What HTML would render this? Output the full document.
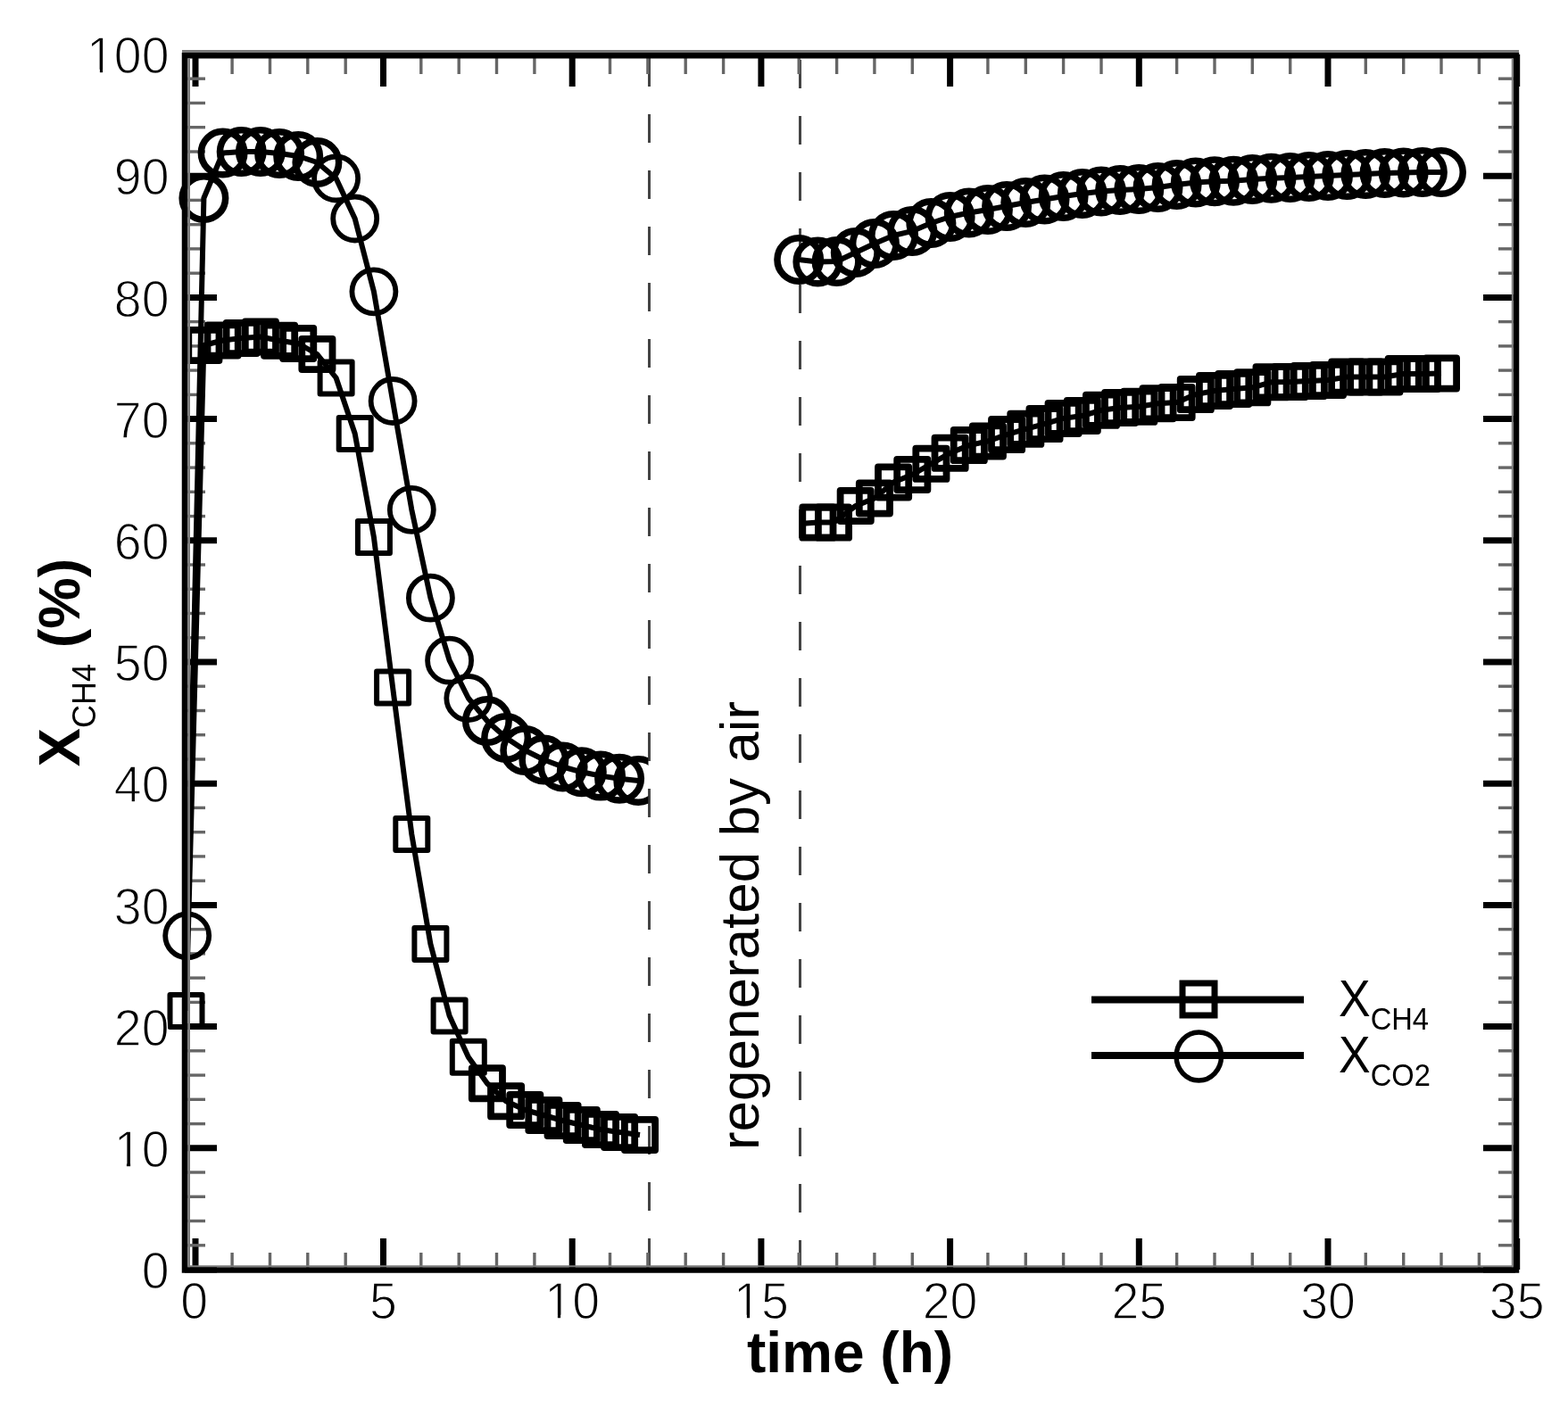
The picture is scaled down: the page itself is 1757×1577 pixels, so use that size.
<!DOCTYPE html><html><head><meta charset="utf-8"><title>X CH4 vs time</title>
<style>html,body{margin:0;padding:0;background:#fff;}svg{display:block;}text{font-family:"Liberation Sans",Arial,Helvetica,sans-serif;fill:#000;}</style></head><body>
<svg width="1757" height="1577" viewBox="0 0 1757 1577">
<rect width="1757" height="1577" fill="#fff"/>
<defs><clipPath id="c12"><rect x="0" y="0" width="726.5" height="1577"/></clipPath></defs>
<line x1="727.5" y1="65" x2="727.5" y2="1419" stroke="#444" stroke-width="3" stroke-dasharray="32 31" stroke-dashoffset="0"/>
<line x1="896.5" y1="65" x2="896.5" y2="1419" stroke="#444" stroke-width="3" stroke-dasharray="32 31" stroke-dashoffset="-2"/>
<line x1="219.0" y1="1423" x2="219.0" y2="1388" stroke="#000" stroke-width="7"/><line x1="219.0" y1="61" x2="219.0" y2="97" stroke="#000" stroke-width="7"/><line x1="260.1" y1="1423" x2="260.1" y2="1404" stroke="#666" stroke-width="3.4"/><line x1="260.1" y1="61" x2="260.1" y2="83" stroke="#666" stroke-width="3.4"/><line x1="302.5" y1="1423" x2="302.5" y2="1404" stroke="#666" stroke-width="3.4"/><line x1="302.5" y1="61" x2="302.5" y2="83" stroke="#666" stroke-width="3.4"/><line x1="344.8" y1="1423" x2="344.8" y2="1404" stroke="#666" stroke-width="3.4"/><line x1="344.8" y1="61" x2="344.8" y2="83" stroke="#666" stroke-width="3.4"/><line x1="387.2" y1="1423" x2="387.2" y2="1404" stroke="#666" stroke-width="3.4"/><line x1="387.2" y1="61" x2="387.2" y2="83" stroke="#666" stroke-width="3.4"/><line x1="429.5" y1="1423" x2="429.5" y2="1388" stroke="#000" stroke-width="7"/><line x1="429.5" y1="61" x2="429.5" y2="97" stroke="#000" stroke-width="7"/><line x1="471.8" y1="1423" x2="471.8" y2="1404" stroke="#666" stroke-width="3.4"/><line x1="471.8" y1="61" x2="471.8" y2="83" stroke="#666" stroke-width="3.4"/><line x1="514.2" y1="1423" x2="514.2" y2="1404" stroke="#666" stroke-width="3.4"/><line x1="514.2" y1="61" x2="514.2" y2="83" stroke="#666" stroke-width="3.4"/><line x1="556.5" y1="1423" x2="556.5" y2="1404" stroke="#666" stroke-width="3.4"/><line x1="556.5" y1="61" x2="556.5" y2="83" stroke="#666" stroke-width="3.4"/><line x1="598.9" y1="1423" x2="598.9" y2="1404" stroke="#666" stroke-width="3.4"/><line x1="598.9" y1="61" x2="598.9" y2="83" stroke="#666" stroke-width="3.4"/><line x1="641.2" y1="1423" x2="641.2" y2="1388" stroke="#000" stroke-width="7"/><line x1="641.2" y1="61" x2="641.2" y2="97" stroke="#000" stroke-width="7"/><line x1="683.5" y1="1423" x2="683.5" y2="1404" stroke="#666" stroke-width="3.4"/><line x1="683.5" y1="61" x2="683.5" y2="83" stroke="#666" stroke-width="3.4"/><line x1="725.9" y1="1423" x2="725.9" y2="1404" stroke="#666" stroke-width="3.4"/><line x1="725.9" y1="61" x2="725.9" y2="83" stroke="#666" stroke-width="3.4"/><line x1="768.2" y1="1423" x2="768.2" y2="1404" stroke="#666" stroke-width="3.4"/><line x1="768.2" y1="61" x2="768.2" y2="83" stroke="#666" stroke-width="3.4"/><line x1="810.6" y1="1423" x2="810.6" y2="1404" stroke="#666" stroke-width="3.4"/><line x1="810.6" y1="61" x2="810.6" y2="83" stroke="#666" stroke-width="3.4"/><line x1="852.9" y1="1423" x2="852.9" y2="1388" stroke="#000" stroke-width="7"/><line x1="852.9" y1="61" x2="852.9" y2="97" stroke="#000" stroke-width="7"/><line x1="895.2" y1="1423" x2="895.2" y2="1404" stroke="#666" stroke-width="3.4"/><line x1="895.2" y1="61" x2="895.2" y2="83" stroke="#666" stroke-width="3.4"/><line x1="937.6" y1="1423" x2="937.6" y2="1404" stroke="#666" stroke-width="3.4"/><line x1="937.6" y1="61" x2="937.6" y2="83" stroke="#666" stroke-width="3.4"/><line x1="979.9" y1="1423" x2="979.9" y2="1404" stroke="#666" stroke-width="3.4"/><line x1="979.9" y1="61" x2="979.9" y2="83" stroke="#666" stroke-width="3.4"/><line x1="1022.3" y1="1423" x2="1022.3" y2="1404" stroke="#666" stroke-width="3.4"/><line x1="1022.3" y1="61" x2="1022.3" y2="83" stroke="#666" stroke-width="3.4"/><line x1="1064.6" y1="1423" x2="1064.6" y2="1388" stroke="#000" stroke-width="7"/><line x1="1064.6" y1="61" x2="1064.6" y2="97" stroke="#000" stroke-width="7"/><line x1="1106.9" y1="1423" x2="1106.9" y2="1404" stroke="#666" stroke-width="3.4"/><line x1="1106.9" y1="61" x2="1106.9" y2="83" stroke="#666" stroke-width="3.4"/><line x1="1149.3" y1="1423" x2="1149.3" y2="1404" stroke="#666" stroke-width="3.4"/><line x1="1149.3" y1="61" x2="1149.3" y2="83" stroke="#666" stroke-width="3.4"/><line x1="1191.6" y1="1423" x2="1191.6" y2="1404" stroke="#666" stroke-width="3.4"/><line x1="1191.6" y1="61" x2="1191.6" y2="83" stroke="#666" stroke-width="3.4"/><line x1="1234.0" y1="1423" x2="1234.0" y2="1404" stroke="#666" stroke-width="3.4"/><line x1="1234.0" y1="61" x2="1234.0" y2="83" stroke="#666" stroke-width="3.4"/><line x1="1276.3" y1="1423" x2="1276.3" y2="1388" stroke="#000" stroke-width="7"/><line x1="1276.3" y1="61" x2="1276.3" y2="97" stroke="#000" stroke-width="7"/><line x1="1318.6" y1="1423" x2="1318.6" y2="1404" stroke="#666" stroke-width="3.4"/><line x1="1318.6" y1="61" x2="1318.6" y2="83" stroke="#666" stroke-width="3.4"/><line x1="1361.0" y1="1423" x2="1361.0" y2="1404" stroke="#666" stroke-width="3.4"/><line x1="1361.0" y1="61" x2="1361.0" y2="83" stroke="#666" stroke-width="3.4"/><line x1="1403.3" y1="1423" x2="1403.3" y2="1404" stroke="#666" stroke-width="3.4"/><line x1="1403.3" y1="61" x2="1403.3" y2="83" stroke="#666" stroke-width="3.4"/><line x1="1445.7" y1="1423" x2="1445.7" y2="1404" stroke="#666" stroke-width="3.4"/><line x1="1445.7" y1="61" x2="1445.7" y2="83" stroke="#666" stroke-width="3.4"/><line x1="1488.0" y1="1423" x2="1488.0" y2="1388" stroke="#000" stroke-width="7"/><line x1="1488.0" y1="61" x2="1488.0" y2="97" stroke="#000" stroke-width="7"/><line x1="1530.3" y1="1423" x2="1530.3" y2="1404" stroke="#666" stroke-width="3.4"/><line x1="1530.3" y1="61" x2="1530.3" y2="83" stroke="#666" stroke-width="3.4"/><line x1="1572.7" y1="1423" x2="1572.7" y2="1404" stroke="#666" stroke-width="3.4"/><line x1="1572.7" y1="61" x2="1572.7" y2="83" stroke="#666" stroke-width="3.4"/><line x1="1615.0" y1="1423" x2="1615.0" y2="1404" stroke="#666" stroke-width="3.4"/><line x1="1615.0" y1="61" x2="1615.0" y2="83" stroke="#666" stroke-width="3.4"/><line x1="1657.4" y1="1423" x2="1657.4" y2="1404" stroke="#666" stroke-width="3.4"/><line x1="1657.4" y1="61" x2="1657.4" y2="83" stroke="#666" stroke-width="3.4"/><line x1="1699.7" y1="1423" x2="1699.7" y2="1388" stroke="#000" stroke-width="7"/><line x1="1699.7" y1="61" x2="1699.7" y2="97" stroke="#000" stroke-width="7"/><line x1="207" y1="1423.0" x2="243" y2="1423.0" stroke="#000" stroke-width="7"/><line x1="1698" y1="1423.0" x2="1662" y2="1423.0" stroke="#000" stroke-width="7"/><line x1="207" y1="1395.8" x2="230" y2="1395.8" stroke="#666" stroke-width="3.4"/><line x1="1698" y1="1395.8" x2="1679" y2="1395.8" stroke="#666" stroke-width="3.4"/><line x1="207" y1="1368.5" x2="230" y2="1368.5" stroke="#666" stroke-width="3.4"/><line x1="1698" y1="1368.5" x2="1679" y2="1368.5" stroke="#666" stroke-width="3.4"/><line x1="207" y1="1341.3" x2="230" y2="1341.3" stroke="#666" stroke-width="3.4"/><line x1="1698" y1="1341.3" x2="1679" y2="1341.3" stroke="#666" stroke-width="3.4"/><line x1="207" y1="1314.0" x2="230" y2="1314.0" stroke="#666" stroke-width="3.4"/><line x1="1698" y1="1314.0" x2="1679" y2="1314.0" stroke="#666" stroke-width="3.4"/><line x1="207" y1="1286.8" x2="243" y2="1286.8" stroke="#000" stroke-width="7"/><line x1="1698" y1="1286.8" x2="1662" y2="1286.8" stroke="#000" stroke-width="7"/><line x1="207" y1="1259.6" x2="230" y2="1259.6" stroke="#666" stroke-width="3.4"/><line x1="1698" y1="1259.6" x2="1679" y2="1259.6" stroke="#666" stroke-width="3.4"/><line x1="207" y1="1232.3" x2="230" y2="1232.3" stroke="#666" stroke-width="3.4"/><line x1="1698" y1="1232.3" x2="1679" y2="1232.3" stroke="#666" stroke-width="3.4"/><line x1="207" y1="1205.1" x2="230" y2="1205.1" stroke="#666" stroke-width="3.4"/><line x1="1698" y1="1205.1" x2="1679" y2="1205.1" stroke="#666" stroke-width="3.4"/><line x1="207" y1="1177.8" x2="230" y2="1177.8" stroke="#666" stroke-width="3.4"/><line x1="1698" y1="1177.8" x2="1679" y2="1177.8" stroke="#666" stroke-width="3.4"/><line x1="207" y1="1150.6" x2="243" y2="1150.6" stroke="#000" stroke-width="7"/><line x1="1698" y1="1150.6" x2="1662" y2="1150.6" stroke="#000" stroke-width="7"/><line x1="207" y1="1123.4" x2="230" y2="1123.4" stroke="#666" stroke-width="3.4"/><line x1="1698" y1="1123.4" x2="1679" y2="1123.4" stroke="#666" stroke-width="3.4"/><line x1="207" y1="1096.1" x2="230" y2="1096.1" stroke="#666" stroke-width="3.4"/><line x1="1698" y1="1096.1" x2="1679" y2="1096.1" stroke="#666" stroke-width="3.4"/><line x1="207" y1="1068.9" x2="230" y2="1068.9" stroke="#666" stroke-width="3.4"/><line x1="1698" y1="1068.9" x2="1679" y2="1068.9" stroke="#666" stroke-width="3.4"/><line x1="207" y1="1041.6" x2="230" y2="1041.6" stroke="#666" stroke-width="3.4"/><line x1="1698" y1="1041.6" x2="1679" y2="1041.6" stroke="#666" stroke-width="3.4"/><line x1="207" y1="1014.4" x2="243" y2="1014.4" stroke="#000" stroke-width="7"/><line x1="1698" y1="1014.4" x2="1662" y2="1014.4" stroke="#000" stroke-width="7"/><line x1="207" y1="987.2" x2="230" y2="987.2" stroke="#666" stroke-width="3.4"/><line x1="1698" y1="987.2" x2="1679" y2="987.2" stroke="#666" stroke-width="3.4"/><line x1="207" y1="959.9" x2="230" y2="959.9" stroke="#666" stroke-width="3.4"/><line x1="1698" y1="959.9" x2="1679" y2="959.9" stroke="#666" stroke-width="3.4"/><line x1="207" y1="932.7" x2="230" y2="932.7" stroke="#666" stroke-width="3.4"/><line x1="1698" y1="932.7" x2="1679" y2="932.7" stroke="#666" stroke-width="3.4"/><line x1="207" y1="905.4" x2="230" y2="905.4" stroke="#666" stroke-width="3.4"/><line x1="1698" y1="905.4" x2="1679" y2="905.4" stroke="#666" stroke-width="3.4"/><line x1="207" y1="878.2" x2="243" y2="878.2" stroke="#000" stroke-width="7"/><line x1="1698" y1="878.2" x2="1662" y2="878.2" stroke="#000" stroke-width="7"/><line x1="207" y1="851.0" x2="230" y2="851.0" stroke="#666" stroke-width="3.4"/><line x1="1698" y1="851.0" x2="1679" y2="851.0" stroke="#666" stroke-width="3.4"/><line x1="207" y1="823.7" x2="230" y2="823.7" stroke="#666" stroke-width="3.4"/><line x1="1698" y1="823.7" x2="1679" y2="823.7" stroke="#666" stroke-width="3.4"/><line x1="207" y1="796.5" x2="230" y2="796.5" stroke="#666" stroke-width="3.4"/><line x1="1698" y1="796.5" x2="1679" y2="796.5" stroke="#666" stroke-width="3.4"/><line x1="207" y1="769.2" x2="230" y2="769.2" stroke="#666" stroke-width="3.4"/><line x1="1698" y1="769.2" x2="1679" y2="769.2" stroke="#666" stroke-width="3.4"/><line x1="207" y1="742.0" x2="243" y2="742.0" stroke="#000" stroke-width="7"/><line x1="1698" y1="742.0" x2="1662" y2="742.0" stroke="#000" stroke-width="7"/><line x1="207" y1="714.8" x2="230" y2="714.8" stroke="#666" stroke-width="3.4"/><line x1="1698" y1="714.8" x2="1679" y2="714.8" stroke="#666" stroke-width="3.4"/><line x1="207" y1="687.5" x2="230" y2="687.5" stroke="#666" stroke-width="3.4"/><line x1="1698" y1="687.5" x2="1679" y2="687.5" stroke="#666" stroke-width="3.4"/><line x1="207" y1="660.3" x2="230" y2="660.3" stroke="#666" stroke-width="3.4"/><line x1="1698" y1="660.3" x2="1679" y2="660.3" stroke="#666" stroke-width="3.4"/><line x1="207" y1="633.0" x2="230" y2="633.0" stroke="#666" stroke-width="3.4"/><line x1="1698" y1="633.0" x2="1679" y2="633.0" stroke="#666" stroke-width="3.4"/><line x1="207" y1="605.8" x2="243" y2="605.8" stroke="#000" stroke-width="7"/><line x1="1698" y1="605.8" x2="1662" y2="605.8" stroke="#000" stroke-width="7"/><line x1="207" y1="578.6" x2="230" y2="578.6" stroke="#666" stroke-width="3.4"/><line x1="1698" y1="578.6" x2="1679" y2="578.6" stroke="#666" stroke-width="3.4"/><line x1="207" y1="551.3" x2="230" y2="551.3" stroke="#666" stroke-width="3.4"/><line x1="1698" y1="551.3" x2="1679" y2="551.3" stroke="#666" stroke-width="3.4"/><line x1="207" y1="524.1" x2="230" y2="524.1" stroke="#666" stroke-width="3.4"/><line x1="1698" y1="524.1" x2="1679" y2="524.1" stroke="#666" stroke-width="3.4"/><line x1="207" y1="496.8" x2="230" y2="496.8" stroke="#666" stroke-width="3.4"/><line x1="1698" y1="496.8" x2="1679" y2="496.8" stroke="#666" stroke-width="3.4"/><line x1="207" y1="469.6" x2="243" y2="469.6" stroke="#000" stroke-width="7"/><line x1="1698" y1="469.6" x2="1662" y2="469.6" stroke="#000" stroke-width="7"/><line x1="207" y1="442.4" x2="230" y2="442.4" stroke="#666" stroke-width="3.4"/><line x1="1698" y1="442.4" x2="1679" y2="442.4" stroke="#666" stroke-width="3.4"/><line x1="207" y1="415.1" x2="230" y2="415.1" stroke="#666" stroke-width="3.4"/><line x1="1698" y1="415.1" x2="1679" y2="415.1" stroke="#666" stroke-width="3.4"/><line x1="207" y1="387.9" x2="230" y2="387.9" stroke="#666" stroke-width="3.4"/><line x1="1698" y1="387.9" x2="1679" y2="387.9" stroke="#666" stroke-width="3.4"/><line x1="207" y1="360.6" x2="230" y2="360.6" stroke="#666" stroke-width="3.4"/><line x1="1698" y1="360.6" x2="1679" y2="360.6" stroke="#666" stroke-width="3.4"/><line x1="207" y1="333.4" x2="243" y2="333.4" stroke="#000" stroke-width="7"/><line x1="1698" y1="333.4" x2="1662" y2="333.4" stroke="#000" stroke-width="7"/><line x1="207" y1="306.2" x2="230" y2="306.2" stroke="#666" stroke-width="3.4"/><line x1="1698" y1="306.2" x2="1679" y2="306.2" stroke="#666" stroke-width="3.4"/><line x1="207" y1="278.9" x2="230" y2="278.9" stroke="#666" stroke-width="3.4"/><line x1="1698" y1="278.9" x2="1679" y2="278.9" stroke="#666" stroke-width="3.4"/><line x1="207" y1="251.7" x2="230" y2="251.7" stroke="#666" stroke-width="3.4"/><line x1="1698" y1="251.7" x2="1679" y2="251.7" stroke="#666" stroke-width="3.4"/><line x1="207" y1="224.4" x2="230" y2="224.4" stroke="#666" stroke-width="3.4"/><line x1="1698" y1="224.4" x2="1679" y2="224.4" stroke="#666" stroke-width="3.4"/><line x1="207" y1="197.2" x2="243" y2="197.2" stroke="#000" stroke-width="7"/><line x1="1698" y1="197.2" x2="1662" y2="197.2" stroke="#000" stroke-width="7"/><line x1="207" y1="170.0" x2="230" y2="170.0" stroke="#666" stroke-width="3.4"/><line x1="1698" y1="170.0" x2="1679" y2="170.0" stroke="#666" stroke-width="3.4"/><line x1="207" y1="142.7" x2="230" y2="142.7" stroke="#666" stroke-width="3.4"/><line x1="1698" y1="142.7" x2="1679" y2="142.7" stroke="#666" stroke-width="3.4"/><line x1="207" y1="115.5" x2="230" y2="115.5" stroke="#666" stroke-width="3.4"/><line x1="1698" y1="115.5" x2="1679" y2="115.5" stroke="#666" stroke-width="3.4"/><line x1="207" y1="88.2" x2="230" y2="88.2" stroke="#666" stroke-width="3.4"/><line x1="1698" y1="88.2" x2="1679" y2="88.2" stroke="#666" stroke-width="3.4"/><line x1="207" y1="61.0" x2="243" y2="61.0" stroke="#000" stroke-width="7"/><line x1="1698" y1="61.0" x2="1662" y2="61.0" stroke="#000" stroke-width="7"/>
<g fill="none" stroke="#000" stroke-linejoin="round">
<polyline points="208.5,1133.0 228.4,387.0 249.6,381.5 270.7,379.0 291.9,377.5 313.1,381.7 334.2,385.0 355.4,397.0 376.6,423.5 397.7,486.0 418.9,602.0 440.1,770.5 461.3,935.0 482.4,1058.0 503.6,1138.5 524.8,1184.7 545.9,1214.3 567.1,1234.3 588.3,1244.0 609.4,1250.0 630.6,1256.0 651.8,1261.0 673.0,1266.0 694.1,1269.0 717.0,1272.0" stroke-width="6.0"/>
<g><rect x="190.5" y="1115.0" width="36.0" height="36.0" stroke-width="6.0"/><rect x="211.3" y="369.9" width="34.2" height="34.2" stroke-width="7.8"/><rect x="232.5" y="364.4" width="34.2" height="34.2" stroke-width="7.8"/><rect x="253.6" y="361.9" width="34.2" height="34.2" stroke-width="7.8"/><rect x="274.8" y="360.4" width="34.2" height="34.2" stroke-width="7.8"/><rect x="296.0" y="364.6" width="34.2" height="34.2" stroke-width="7.8"/><rect x="317.1" y="367.9" width="34.2" height="34.2" stroke-width="7.8"/><rect x="338.3" y="379.9" width="34.2" height="34.2" stroke-width="7.8"/><rect x="358.6" y="405.5" width="36.0" height="36.0" stroke-width="6.0"/><rect x="379.7" y="468.0" width="36.0" height="36.0" stroke-width="6.0"/><rect x="400.9" y="584.0" width="36.0" height="36.0" stroke-width="6.0"/><rect x="422.1" y="752.5" width="36.0" height="36.0" stroke-width="6.0"/><rect x="443.3" y="917.0" width="36.0" height="36.0" stroke-width="6.0"/><rect x="464.4" y="1040.0" width="36.0" height="36.0" stroke-width="6.0"/><rect x="485.6" y="1120.5" width="36.0" height="36.0" stroke-width="6.0"/><rect x="506.8" y="1166.7" width="36.0" height="36.0" stroke-width="6.0"/><rect x="528.8" y="1197.2" width="34.2" height="34.2" stroke-width="7.8"/><rect x="550.0" y="1217.2" width="34.2" height="34.2" stroke-width="7.8"/><rect x="571.2" y="1226.9" width="34.2" height="34.2" stroke-width="7.8"/><rect x="592.3" y="1232.9" width="34.2" height="34.2" stroke-width="7.8"/><rect x="613.5" y="1238.9" width="34.2" height="34.2" stroke-width="7.8"/><rect x="634.7" y="1243.9" width="34.2" height="34.2" stroke-width="7.8"/><rect x="655.9" y="1248.9" width="34.2" height="34.2" stroke-width="7.8"/><rect x="677.0" y="1251.9" width="34.2" height="34.2" stroke-width="7.8"/><rect x="699.9" y="1254.9" width="34.2" height="34.2" stroke-width="7.8"/></g>
<g clip-path="url(#c12)">
<polyline points="209.7,1048.8 228.4,222.0 249.6,171.5 270.7,170.0 291.9,170.0 313.1,172.0 334.2,175.0 355.4,182.0 376.6,200.0 397.7,245.0 418.9,326.8 440.1,449.5 461.3,571.3 482.4,670.2 503.6,740.2 524.8,782.5 545.9,808.0 567.1,827.0 588.3,841.0 609.4,851.5 630.6,859.5 651.8,865.3 673.0,869.6 694.1,872.8 715.3,875.0" stroke-width="6.0"/>
<g><circle cx="209.7" cy="1048.8" r="24.50" stroke-width="5.8"/><circle cx="228.4" cy="222.0" r="24.25" stroke-width="7.5"/><circle cx="249.6" cy="171.5" r="24.25" stroke-width="7.5"/><circle cx="270.7" cy="170.0" r="24.25" stroke-width="7.5"/><circle cx="291.9" cy="170.0" r="24.25" stroke-width="7.5"/><circle cx="313.1" cy="172.0" r="24.25" stroke-width="7.5"/><circle cx="334.2" cy="175.0" r="24.25" stroke-width="7.5"/><circle cx="355.4" cy="182.0" r="24.25" stroke-width="7.5"/><circle cx="376.6" cy="200.0" r="24.50" stroke-width="5.8"/><circle cx="397.7" cy="245.0" r="24.50" stroke-width="5.8"/><circle cx="418.9" cy="326.8" r="24.50" stroke-width="5.8"/><circle cx="440.1" cy="449.5" r="24.50" stroke-width="5.8"/><circle cx="461.3" cy="571.3" r="24.50" stroke-width="5.8"/><circle cx="482.4" cy="670.2" r="24.50" stroke-width="5.8"/><circle cx="503.6" cy="740.2" r="24.50" stroke-width="5.8"/><circle cx="524.8" cy="782.5" r="24.50" stroke-width="5.8"/><circle cx="545.9" cy="808.0" r="24.25" stroke-width="7.5"/><circle cx="567.1" cy="827.0" r="24.25" stroke-width="7.5"/><circle cx="588.3" cy="841.0" r="24.25" stroke-width="7.5"/><circle cx="609.4" cy="851.5" r="24.25" stroke-width="7.5"/><circle cx="630.6" cy="859.5" r="24.25" stroke-width="7.5"/><circle cx="651.8" cy="865.3" r="24.25" stroke-width="7.5"/><circle cx="673.0" cy="869.6" r="24.25" stroke-width="7.5"/><circle cx="694.1" cy="872.8" r="24.25" stroke-width="7.5"/><circle cx="715.3" cy="875.0" r="24.25" stroke-width="7.5"/></g>
</g>
<polyline points="896.5,587.0 916.4,585.6 934.0,585.6 958.8,567.0 979.9,558.5 1001.1,540.5 1022.3,532.0 1043.4,519.8 1064.6,507.8 1085.8,499.1 1106.9,494.5 1128.1,487.1 1149.3,480.8 1170.5,475.1 1191.6,468.9 1212.8,466.0 1234.0,459.8 1255.1,457.0 1276.3,455.8 1297.5,452.2 1318.6,451.0 1339.8,442.1 1361.0,438.0 1382.2,436.0 1403.3,434.3 1424.5,428.3 1445.7,428.0 1466.8,427.0 1488.0,426.0 1509.2,422.5 1530.3,422.5 1551.5,422.5 1572.7,419.0 1593.9,419.0 1615.0,418.5" stroke-width="6.0"/>
<g><rect x="899.3" y="568.5" width="34.2" height="34.2" stroke-width="7.8"/><rect x="916.9" y="568.5" width="34.2" height="34.2" stroke-width="7.8"/><rect x="941.6" y="549.9" width="34.2" height="34.2" stroke-width="7.8"/><rect x="962.8" y="541.4" width="34.2" height="34.2" stroke-width="7.8"/><rect x="984.0" y="523.4" width="34.2" height="34.2" stroke-width="7.8"/><rect x="1005.2" y="514.9" width="34.2" height="34.2" stroke-width="7.8"/><rect x="1026.3" y="502.7" width="34.2" height="34.2" stroke-width="7.8"/><rect x="1047.5" y="490.7" width="34.2" height="34.2" stroke-width="7.8"/><rect x="1068.7" y="482.0" width="34.2" height="34.2" stroke-width="7.8"/><rect x="1089.8" y="477.4" width="34.2" height="34.2" stroke-width="7.8"/><rect x="1111.0" y="470.0" width="34.2" height="34.2" stroke-width="7.8"/><rect x="1132.2" y="463.7" width="34.2" height="34.2" stroke-width="7.8"/><rect x="1153.4" y="458.0" width="34.2" height="34.2" stroke-width="7.8"/><rect x="1174.5" y="451.8" width="34.2" height="34.2" stroke-width="7.8"/><rect x="1195.7" y="448.9" width="34.2" height="34.2" stroke-width="7.8"/><rect x="1216.9" y="442.7" width="34.2" height="34.2" stroke-width="7.8"/><rect x="1238.0" y="439.9" width="34.2" height="34.2" stroke-width="7.8"/><rect x="1259.2" y="438.7" width="34.2" height="34.2" stroke-width="7.8"/><rect x="1280.4" y="435.1" width="34.2" height="34.2" stroke-width="7.8"/><rect x="1301.5" y="433.9" width="34.2" height="34.2" stroke-width="7.8"/><rect x="1322.7" y="425.0" width="34.2" height="34.2" stroke-width="7.8"/><rect x="1343.9" y="420.9" width="34.2" height="34.2" stroke-width="7.8"/><rect x="1365.1" y="418.9" width="34.2" height="34.2" stroke-width="7.8"/><rect x="1386.2" y="417.2" width="34.2" height="34.2" stroke-width="7.8"/><rect x="1407.4" y="411.2" width="34.2" height="34.2" stroke-width="7.8"/><rect x="1428.6" y="410.9" width="34.2" height="34.2" stroke-width="7.8"/><rect x="1449.7" y="409.9" width="34.2" height="34.2" stroke-width="7.8"/><rect x="1470.9" y="408.9" width="34.2" height="34.2" stroke-width="7.8"/><rect x="1492.1" y="405.4" width="34.2" height="34.2" stroke-width="7.8"/><rect x="1513.2" y="405.4" width="34.2" height="34.2" stroke-width="7.8"/><rect x="1534.4" y="405.4" width="34.2" height="34.2" stroke-width="7.8"/><rect x="1555.6" y="401.9" width="34.2" height="34.2" stroke-width="7.8"/><rect x="1576.8" y="401.9" width="34.2" height="34.2" stroke-width="7.8"/><rect x="1597.9" y="401.4" width="34.2" height="34.2" stroke-width="7.8"/></g>
<polyline points="895.2,291.0 916.4,293.5 937.6,293.0 958.8,283.0 979.9,273.0 1001.1,264.0 1022.3,259.0 1043.4,250.0 1064.6,243.0 1085.8,238.5 1106.9,235.0 1128.1,231.0 1149.3,227.0 1170.5,223.5 1191.6,220.0 1212.8,217.0 1234.0,214.5 1255.1,213.0 1276.3,212.0 1297.5,210.0 1318.6,207.0 1339.8,204.5 1361.0,203.3 1382.2,202.8 1403.3,201.0 1424.5,199.8 1445.7,199.0 1466.8,198.0 1488.0,197.0 1509.2,196.0 1530.3,195.0 1551.5,194.0 1572.7,193.5 1593.9,193.0 1615.0,193.0" stroke-width="6.0"/>
<g><circle cx="895.2" cy="291.0" r="24.25" stroke-width="7.5"/><circle cx="916.4" cy="293.5" r="24.25" stroke-width="7.5"/><circle cx="937.6" cy="293.0" r="24.25" stroke-width="7.5"/><circle cx="958.8" cy="283.0" r="24.25" stroke-width="7.5"/><circle cx="979.9" cy="273.0" r="24.25" stroke-width="7.5"/><circle cx="1001.1" cy="264.0" r="24.25" stroke-width="7.5"/><circle cx="1022.3" cy="259.0" r="24.25" stroke-width="7.5"/><circle cx="1043.4" cy="250.0" r="24.25" stroke-width="7.5"/><circle cx="1064.6" cy="243.0" r="24.25" stroke-width="7.5"/><circle cx="1085.8" cy="238.5" r="24.25" stroke-width="7.5"/><circle cx="1106.9" cy="235.0" r="24.25" stroke-width="7.5"/><circle cx="1128.1" cy="231.0" r="24.25" stroke-width="7.5"/><circle cx="1149.3" cy="227.0" r="24.25" stroke-width="7.5"/><circle cx="1170.5" cy="223.5" r="24.25" stroke-width="7.5"/><circle cx="1191.6" cy="220.0" r="24.25" stroke-width="7.5"/><circle cx="1212.8" cy="217.0" r="24.25" stroke-width="7.5"/><circle cx="1234.0" cy="214.5" r="24.25" stroke-width="7.5"/><circle cx="1255.1" cy="213.0" r="24.25" stroke-width="7.5"/><circle cx="1276.3" cy="212.0" r="24.25" stroke-width="7.5"/><circle cx="1297.5" cy="210.0" r="24.25" stroke-width="7.5"/><circle cx="1318.6" cy="207.0" r="24.25" stroke-width="7.5"/><circle cx="1339.8" cy="204.5" r="24.25" stroke-width="7.5"/><circle cx="1361.0" cy="203.3" r="24.25" stroke-width="7.5"/><circle cx="1382.2" cy="202.8" r="24.25" stroke-width="7.5"/><circle cx="1403.3" cy="201.0" r="24.25" stroke-width="7.5"/><circle cx="1424.5" cy="199.8" r="24.25" stroke-width="7.5"/><circle cx="1445.7" cy="199.0" r="24.25" stroke-width="7.5"/><circle cx="1466.8" cy="198.0" r="24.25" stroke-width="7.5"/><circle cx="1488.0" cy="197.0" r="24.25" stroke-width="7.5"/><circle cx="1509.2" cy="196.0" r="24.25" stroke-width="7.5"/><circle cx="1530.3" cy="195.0" r="24.25" stroke-width="7.5"/><circle cx="1551.5" cy="194.0" r="24.25" stroke-width="7.5"/><circle cx="1572.7" cy="193.5" r="24.25" stroke-width="7.5"/><circle cx="1593.9" cy="193.0" r="24.25" stroke-width="7.5"/><circle cx="1615.0" cy="193.0" r="24.25" stroke-width="7.5"/></g>
</g>
<rect x="207" y="62.3" width="1492" height="1361.2" fill="none" stroke="#000" stroke-width="6.5"/>
<g stroke="#7a7a7a" fill="none"><line x1="211.6" y1="65.5" x2="211.6" y2="1420.2" stroke-width="2.8"/><line x1="204" y1="57.6" x2="1702" y2="57.6" stroke-width="3"/><line x1="1694.8" y1="65.5" x2="1694.8" y2="1420.2" stroke-width="2"/><line x1="210.2" y1="1419.3" x2="1695.7" y2="1419.3" stroke-width="2"/></g>
<g stroke="#fff" stroke-width="1.3"><text transform="translate(189.5,1444.2) scale(1,1.045)" font-size="55.5" text-anchor="end">0</text><text transform="translate(189.5,1308.0) scale(1,1.045)" font-size="55.5" text-anchor="end">10</text><text transform="translate(189.5,1171.8) scale(1,1.045)" font-size="55.5" text-anchor="end">20</text><text transform="translate(189.5,1035.6) scale(1,1.045)" font-size="55.5" text-anchor="end">30</text><text transform="translate(189.5,899.4) scale(1,1.045)" font-size="55.5" text-anchor="end">40</text><text transform="translate(189.5,763.2) scale(1,1.045)" font-size="55.5" text-anchor="end">50</text><text transform="translate(189.5,627.0) scale(1,1.045)" font-size="55.5" text-anchor="end">60</text><text transform="translate(189.5,490.8) scale(1,1.045)" font-size="55.5" text-anchor="end">70</text><text transform="translate(189.5,354.6) scale(1,1.045)" font-size="55.5" text-anchor="end">80</text><text transform="translate(189.5,218.4) scale(1,1.045)" font-size="55.5" text-anchor="end">90</text><text transform="translate(189.5,82.2) scale(1,1.045)" font-size="55.5" text-anchor="end">100</text><text transform="translate(217.8,1477.8) scale(1,1.045)" font-size="55.5" text-anchor="middle">0</text><text transform="translate(429.5,1477.8) scale(1,1.045)" font-size="55.5" text-anchor="middle">5</text><text transform="translate(641.2,1477.8) scale(1,1.045)" font-size="55.5" text-anchor="middle">10</text><text transform="translate(852.9,1477.8) scale(1,1.045)" font-size="55.5" text-anchor="middle">15</text><text transform="translate(1064.6,1477.8) scale(1,1.045)" font-size="55.5" text-anchor="middle">20</text><text transform="translate(1276.3,1477.8) scale(1,1.045)" font-size="55.5" text-anchor="middle">25</text><text transform="translate(1488.0,1477.8) scale(1,1.045)" font-size="55.5" text-anchor="middle">30</text><text transform="translate(1699.7,1477.8) scale(1,1.045)" font-size="55.5" text-anchor="middle">35</text></g>
<rect x="100.0" y="77.8" width="11.9" height="4.4" fill="#fff"/><rect x="115.1" y="77.8" width="11.0" height="4.4" fill="#fff"/><rect x="131.0" y="1303.8" width="10.9" height="4.4" fill="#fff"/><rect x="146.1" y="1303.8" width="11.0" height="4.4" fill="#fff"/><rect x="613.0" y="1473.8" width="11.9" height="4.4" fill="#fff"/><rect x="628.1" y="1473.8" width="12.0" height="4.4" fill="#fff"/><rect x="825.0" y="1473.8" width="11.9" height="4.4" fill="#fff"/><rect x="840.1" y="1473.8" width="11.0" height="4.4" fill="#fff"/>
<text x="952.5" y="1538" font-size="64" font-weight="bold" text-anchor="middle">time (h)</text>
<text transform="translate(89,742.5) rotate(-90)" font-size="64.5" font-weight="bold" text-anchor="middle">X<tspan font-size="36" font-weight="normal" dy="18">CH4</tspan><tspan dy="-18"> (%)</tspan></text>
<text transform="translate(849.7,1037.5) rotate(-90)" font-size="62" text-anchor="middle">regenerated by air</text>
<g fill="none" stroke="#000">
<line x1="1223" y1="1120.5" x2="1461" y2="1120.5" stroke-width="8"/>
<rect x="1325" y="1102" width="36" height="36" stroke-width="7"/>
<line x1="1223" y1="1183" x2="1461" y2="1183" stroke-width="8"/>
<ellipse cx="1343.3" cy="1184" rx="25.2" ry="27" stroke-width="5.5"/>
</g>
<text transform="translate(1500,1138.5) scale(0.99,1.07)" font-size="54">X<tspan font-size="33" dy="14.8">CH4</tspan></text>
<text transform="translate(1500,1201.6) scale(0.99,1.07)" font-size="54">X<tspan font-size="33" dy="14">CO2</tspan></text>
</svg></body></html>
